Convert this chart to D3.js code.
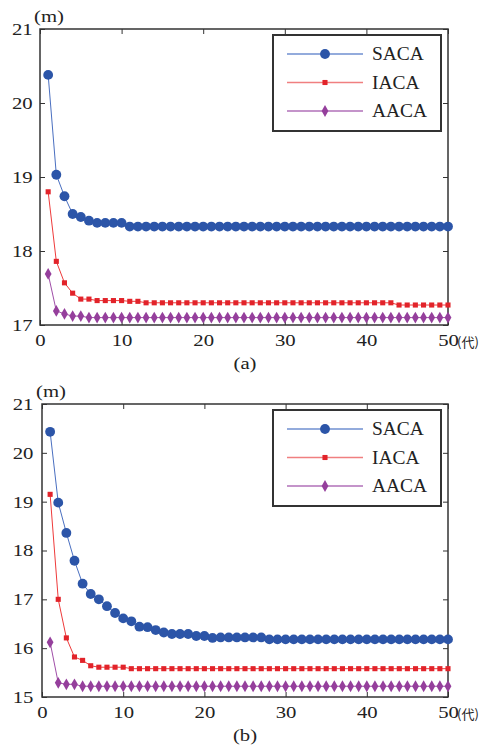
<!DOCTYPE html>
<html>
<head>
<meta charset="utf-8">
<script src="https://cdn.jsdelivr.net/npm/d3@7"></script>
<style>
  body { margin: 0; background: #fff; }
  text { font-family: "Liberation Serif", "Times New Roman", serif; fill: #222; }
</style>
</head>
<body>
<div id="chart"></div>
<script>
// generations 1..50
const generations = d3.range(1, 51);
const seriesNames = ["SACA", "IACA", "AACA"];
const xTicks = [0, 10, 20, 30, 40, 50];

// panel (a)
const sacaA = [20.38, 19.03, 18.74, 18.50, 18.46, 18.41, 18.38, 18.38, 18.38, 18.38,
  18.33, 18.33, 18.33, 18.33, 18.33, 18.33, 18.33, 18.33, 18.33, 18.33,
  18.33, 18.33, 18.33, 18.33, 18.33, 18.33, 18.33, 18.33, 18.33, 18.33,
  18.33, 18.33, 18.33, 18.33, 18.33, 18.33, 18.33, 18.33, 18.33, 18.33,
  18.33, 18.33, 18.33, 18.33, 18.33, 18.33, 18.33, 18.33, 18.33, 18.33];
const iacaA = [18.80, 17.86, 17.57, 17.43, 17.35, 17.35, 17.33, 17.33, 17.33, 17.33,
  17.32, 17.32, 17.30, 17.30, 17.30, 17.30, 17.30, 17.30, 17.30, 17.30,
  17.30, 17.30, 17.30, 17.30, 17.30, 17.30, 17.30, 17.30, 17.30, 17.30,
  17.30, 17.30, 17.30, 17.30, 17.30, 17.30, 17.30, 17.30, 17.30, 17.30,
  17.30, 17.30, 17.30, 17.27, 17.27, 17.27, 17.27, 17.27, 17.27, 17.27];
const aacaA = [17.69, 17.19, 17.15, 17.12, 17.12, 17.10, 17.10, 17.10, 17.10, 17.10,
  17.10, 17.10, 17.10, 17.10, 17.10, 17.10, 17.10, 17.10, 17.10, 17.10,
  17.10, 17.10, 17.10, 17.10, 17.10, 17.10, 17.10, 17.10, 17.10, 17.10,
  17.10, 17.10, 17.10, 17.10, 17.10, 17.10, 17.10, 17.10, 17.10, 17.10,
  17.10, 17.10, 17.10, 17.10, 17.10, 17.10, 17.10, 17.10, 17.10, 17.10];
const yTicksA = [17, 18, 19, 20, 21];

// panel (b)
const sacaB = [20.43, 18.98, 18.36, 17.79, 17.32, 17.11, 17.00, 16.86, 16.72, 16.61,
  16.55, 16.44, 16.43, 16.37, 16.32, 16.29, 16.29, 16.29, 16.25, 16.25,
  16.21, 16.22, 16.22, 16.22, 16.22, 16.22, 16.22, 16.18, 16.18, 16.18,
  16.18, 16.18, 16.18, 16.18, 16.18, 16.18, 16.18, 16.18, 16.18, 16.18,
  16.18, 16.18, 16.18, 16.18, 16.18, 16.18, 16.18, 16.18, 16.18, 16.18];
const iacaB = [19.15, 17.00, 16.21, 15.82, 15.75, 15.64, 15.61, 15.61, 15.61, 15.61,
  15.58, 15.58, 15.58, 15.58, 15.58, 15.58, 15.58, 15.58, 15.58, 15.58,
  15.58, 15.58, 15.58, 15.58, 15.58, 15.58, 15.58, 15.58, 15.58, 15.58,
  15.58, 15.58, 15.58, 15.58, 15.58, 15.58, 15.58, 15.58, 15.58, 15.58,
  15.58, 15.58, 15.58, 15.58, 15.58, 15.58, 15.58, 15.58, 15.58, 15.58];
const aacaB = [16.12, 15.29, 15.26, 15.26, 15.22, 15.22, 15.22, 15.22, 15.22, 15.22,
  15.22, 15.22, 15.22, 15.22, 15.22, 15.22, 15.22, 15.22, 15.22, 15.22,
  15.22, 15.22, 15.22, 15.22, 15.22, 15.22, 15.22, 15.22, 15.22, 15.22,
  15.22, 15.22, 15.22, 15.22, 15.22, 15.22, 15.22, 15.22, 15.22, 15.22,
  15.22, 15.22, 15.22, 15.22, 15.22, 15.22, 15.22, 15.22, 15.22, 15.22];
const yTicksB = [15, 16, 17, 18, 19, 20, 21];

const styles = {
  SACA: { line: "#4a6fc0", key: "#6f8fd0", fill: "#2c55a8", symbol: d3.symbolCircle, size: 76 },
  IACA: { line: "#ee3a3a", key: "#f07f80", fill: "#e2232a", symbol: d3.symbolSquare, size: 26 },
  AACA: { line: "#a04ea8", key: "#b070b8", fill: "#953f9c", symbol: d3.symbolDiamond, size: 40 }
};

const W = 489, H = 749;
const svg = d3.select("#chart").append("svg").attr("width", W).attr("height", H);
// the printed figure uses a wide serif, so stretch text a little
const stretch = "scale(1.22,1)";

function drawPanel(cfg) {
  const x = d3.scaleLinear().domain([0, 50]).range([cfg.left, cfg.right]);
  const y = d3.scaleLinear().domain(d3.extent(cfg.yTicks)).range([cfg.bottom, cfg.top]);
  const g = svg.append("g");
  const fmt = d3.format("d");

  // inward ticks on all four sides, labels only bottom / left
  const tickLen = 5;
  g.append("g").attr("transform", `translate(0,${cfg.bottom})`)
    .call(d3.axisBottom(x).tickValues(xTicks).tickFormat(fmt)
      .tickSizeInner(-tickLen).tickSizeOuter(0).tickPadding(9))
    .call(a => a.select(".domain").remove())
    .call(a => a.selectAll("line").attr("stroke", "#333"))
    .call(a => a.selectAll("text").attr("font-size", 17).attr("fill", "#222")
      .attr("transform", stretch));
  g.append("g").attr("transform", `translate(0,${cfg.top})`)
    .call(d3.axisTop(x).tickValues(xTicks).tickSizeInner(-tickLen).tickSizeOuter(0).tickFormat(""))
    .call(a => a.select(".domain").remove())
    .call(a => a.selectAll("line").attr("stroke", "#333"));
  g.append("g").attr("transform", `translate(${cfg.left},0)`)
    .call(d3.axisLeft(y).tickValues(cfg.yTicks).tickFormat(fmt)
      .tickSizeInner(-tickLen).tickSizeOuter(0).tickPadding(cfg.yPad))
    .call(a => a.select(".domain").remove())
    .call(a => a.selectAll("line").attr("stroke", "#333"))
    .call(a => a.selectAll("text").attr("font-size", 17).attr("fill", "#222")
      .attr("transform", stretch));
  g.append("g").attr("transform", `translate(${cfg.right},0)`)
    .call(d3.axisRight(y).tickValues(cfg.yTicks).tickSizeInner(-tickLen).tickSizeOuter(0).tickFormat(""))
    .call(a => a.select(".domain").remove())
    .call(a => a.selectAll("line").attr("stroke", "#333"));

  g.append("rect")
    .attr("x", cfg.left).attr("y", cfg.top)
    .attr("width", cfg.right - cfg.left).attr("height", cfg.bottom - cfg.top)
    .attr("fill", "none").attr("stroke", "#333").attr("stroke-width", 1.5);

  const line = d3.line().x((d, i) => x(generations[i])).y(d => y(d));
  cfg.series.forEach((vals, k) => {
    const st = styles[seriesNames[k]];
    g.append("path").datum(vals).attr("d", line)
      .attr("fill", "none").attr("stroke", st.line).attr("stroke-width", 1);
    g.append("g").selectAll("path").data(vals).join("path")
      .attr("transform", (d, i) => `translate(${x(generations[i])},${y(d)})`)
      .attr("d", d3.symbol(st.symbol, st.size))
      .attr("fill", st.fill);
  });

  // unit labels
  g.append("text").attr("transform", `translate(${cfg.left - 6},${cfg.top - 7}) ${stretch}`)
    .attr("font-size", 17).text("(m)");
  g.append("text").attr("x", x(50) + 9).attr("y", cfg.bottom + 22)
    .attr("font-size", 13).style("font-family", "'Noto Sans CJK SC'").text("(代)");

  g.append("text").attr("transform", `translate(245,${cfg.bottom + 44}) ${stretch}`)
    .attr("text-anchor", "middle").attr("font-size", 17).text(cfg.caption);

  // legend
  const lg = g.append("g").attr("transform", `translate(${cfg.legend.x},${cfg.legend.y})`);
  lg.append("rect").attr("width", 168).attr("height", 96)
    .attr("fill", "#fff").attr("stroke", "#333").attr("stroke-width", 2);
  seriesNames.forEach((name, k) => {
    const st = styles[name];
    const ly = 19 + k * 28.5;
    lg.append("line").attr("x1", 14).attr("x2", 90).attr("y1", ly).attr("y2", ly)
      .attr("stroke", st.key).attr("stroke-width", 1.5);
    lg.append("path").attr("transform", `translate(52,${ly})`)
      .attr("d", d3.symbol(st.symbol, st.size)).attr("fill", st.fill);
    lg.append("text").attr("transform", `translate(99,${ly + 6}) scale(1.08,1)`)
      .attr("font-size", 18).text(name);
  });
}

drawPanel({
  left: 40, right: 448, top: 29, bottom: 325, yPad: 6,
  yTicks: yTicksA, series: [sacaA, iacaA, aacaA],
  caption: "(a)", legend: { x: 273, y: 35 }
});
drawPanel({
  left: 42, right: 448, top: 404, bottom: 697, yPad: 7,
  yTicks: yTicksB, series: [sacaB, iacaB, aacaB],
  caption: "(b)", legend: { x: 273, y: 410 }
});
</script>
</body>
</html>
